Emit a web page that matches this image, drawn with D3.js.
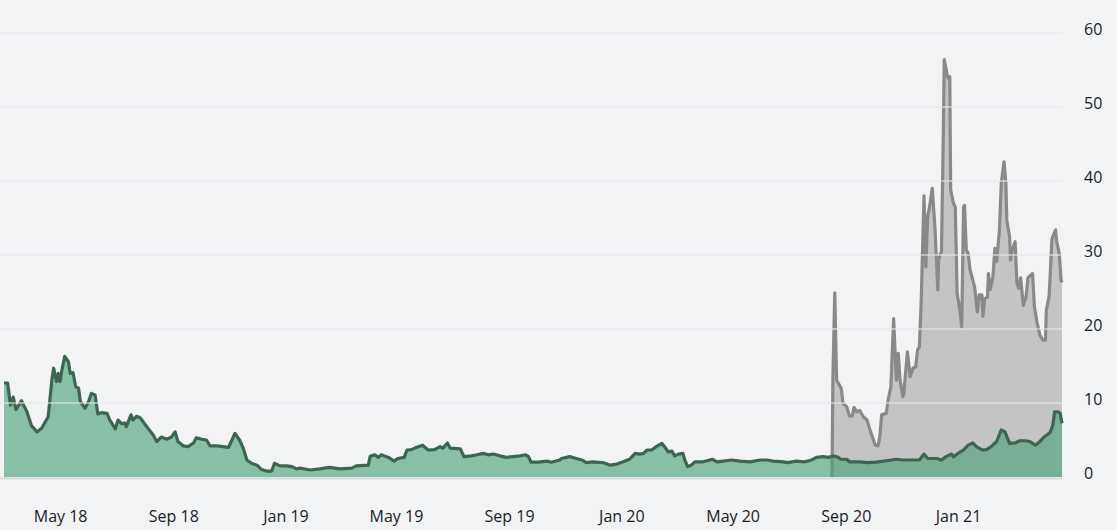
<!DOCTYPE html>
<html>
<head>
<meta charset="utf-8">
<script src="https://cdn.jsdelivr.net/npm/d3@7"></script>
<style>
  html, body { margin: 0; padding: 0; background: #f2f3f5; }
  svg { display: block; }
  text { font-family: "Open Sans", "Noto Sans", sans-serif; }
</style>
</head>
<body>
<svg id="chart" width="1117" height="530"></svg>
<script>
// ---- data ----
const greenDates = [
"2018-03-01","2018-03-05","2018-03-08","2018-03-11","2018-03-14","2018-03-17","2018-03-20","2018-03-26","2018-03-31",
"2018-04-06","2018-04-11","2018-04-15","2018-04-18","2018-04-22","2018-04-24","2018-04-27","2018-04-29",
"2018-05-01","2018-05-03","2018-05-06","2018-05-10","2018-05-12","2018-05-15","2018-05-18","2018-05-21","2018-05-23","2018-05-28",
"2018-06-01","2018-06-04","2018-06-08","2018-06-11","2018-06-15","2018-06-21","2018-06-24","2018-06-30",
"2018-07-03","2018-07-07","2018-07-10","2018-07-12","2018-07-17","2018-07-19","2018-07-23","2018-07-27","2018-07-30",
"2018-08-05","2018-08-10","2018-08-14","2018-08-19","2018-08-25","2018-08-30",
"2018-09-03","2018-09-06","2018-09-12","2018-09-17","2018-09-23","2018-09-26",
"2018-10-02","2018-10-07","2018-10-11","2018-10-18","2018-10-25","2018-10-31",
"2018-11-03","2018-11-07","2018-11-12","2018-11-16","2018-11-20","2018-11-25",
"2018-12-01","2018-12-06","2018-12-11","2018-12-17","2018-12-20","2018-12-26",
"2019-01-02","2019-01-08","2019-01-13","2019-01-17","2019-01-28","2019-02-07","2019-02-18","2019-03-01","2019-03-14","2019-03-19",
"2019-04-01","2019-04-03","2019-04-08","2019-04-12","2019-04-15","2019-04-23","2019-04-29",
"2019-05-03","2019-05-10","2019-05-13","2019-05-18","2019-05-23","2019-05-30",
"2019-06-05","2019-06-12","2019-06-18","2019-06-21","2019-06-26","2019-06-29",
"2019-07-10","2019-07-14","2019-07-22","2019-07-28","2019-08-04","2019-08-09","2019-08-15","2019-08-22","2019-08-29",
"2019-09-05","2019-09-13","2019-09-19","2019-09-22","2019-09-25","2019-10-03","2019-10-12","2019-10-17","2019-10-23","2019-10-26","2019-10-28",
"2019-11-06","2019-11-13","2019-11-19","2019-11-24","2019-12-01","2019-12-12","2019-12-20","2019-12-27",
"2020-01-03","2020-01-10","2020-01-16","2020-01-21","2020-01-25","2020-01-29","2020-02-03","2020-02-08","2020-02-14","2020-02-17","2020-02-21","2020-02-25","2020-02-28",
"2020-03-03","2020-03-08","2020-03-10","2020-03-13","2020-03-17","2020-03-21","2020-03-30",
"2020-04-09","2020-04-14","2020-04-21","2020-04-30","2020-05-09","2020-05-20","2020-05-31",
"2020-06-07","2020-06-14","2020-06-25","2020-06-30","2020-07-09","2020-07-18","2020-07-26","2020-07-31",
"2020-08-07","2020-08-13","2020-08-18","2020-08-24","2020-08-26","2020-09-02","2020-09-05","2020-09-16","2020-09-24",
"2020-10-04","2020-10-15","2020-10-26","2020-11-02","2020-11-13","2020-11-20","2020-11-25","2020-11-29",
"2020-12-09","2020-12-14","2020-12-19","2020-12-25","2020-12-27",
"2021-01-01","2021-01-07","2021-01-12","2021-01-17","2021-01-21","2021-01-27",
"2021-02-01","2021-02-06","2021-02-12","2021-02-17","2021-02-21","2021-02-26",
"2021-03-04","2021-03-09","2021-03-15","2021-03-20","2021-03-26","2021-03-31",
"2021-04-05","2021-04-11","2021-04-14","2021-04-16","2021-04-20","2021-04-22","2021-04-24"
];
const greenValues = [
12.7,12.7,9.7,10.8,9.1,9.7,10.3,8.8,6.9,
6.1,6.6,7.5,8.1,13.1,14.7,12.9,14.0,
12.9,14.5,16.3,15.6,14.0,14.1,12.2,12.0,10.2,9.3,
10.2,11.3,11.1,8.5,8.7,8.6,7.7,6.5,
7.7,7.2,7.3,6.8,8.4,7.7,8.2,8.0,7.5,
6.5,5.7,4.8,5.4,5.1,5.4,
6.1,4.8,4.2,4.1,4.6,5.3,
5.1,5.0,4.2,4.2,4.1,4.0,
4.8,5.9,5.0,3.9,2.3,1.85,
1.6,1.0,0.8,0.8,1.85,1.5,
1.5,1.4,1.1,1.2,0.95,1.1,1.3,1.1,1.2,1.5,
1.6,2.8,3.0,2.65,3.0,2.65,2.15,
2.5,2.65,3.65,3.7,4.0,4.3,
3.65,3.7,4.1,3.9,4.6,3.9,
3.8,2.75,2.85,3.0,3.2,3.0,3.1,2.85,2.65,
2.75,2.85,3.0,2.75,2.0,2.0,2.15,2.0,2.2,2.3,2.5,
2.75,2.5,2.3,1.95,2.05,1.95,1.6,1.75,
2.05,2.4,3.2,3.1,3.2,3.65,3.65,4.1,4.55,4.1,3.4,3.5,2.85,
3.1,3.2,2.3,1.4,1.6,2.05,2.05,
2.4,2.05,2.15,2.3,2.15,2.05,2.3,
2.3,2.15,2.05,1.95,2.15,2.05,2.3,2.65,
2.75,2.65,2.85,2.65,2.4,2.4,2.05,2.05,1.95,
2.0,2.2,2.4,2.3,2.3,2.3,3.1,2.5,
2.5,2.3,2.75,3.1,2.7,
3.2,3.65,4.3,4.6,4.1,3.65,
3.7,4.1,4.8,6.35,6.1,4.55,
4.6,4.9,4.9,4.8,4.3,4.8,
5.45,6.0,7.0,8.8,8.8,8.6,7.25
];
const grayDates = [
"2020-08-17","2020-08-18","2020-08-20","2020-08-22","2020-08-26","2020-08-27","2020-08-29",
"2020-09-02","2020-09-05","2020-09-08","2020-09-10","2020-09-13","2020-09-16","2020-09-20","2020-09-24","2020-09-28",
"2020-10-03","2020-10-06","2020-10-08","2020-10-10","2020-10-15","2020-10-17","2020-10-20","2020-10-23","2020-10-24","2020-10-26","2020-10-28","2020-10-30",
"2020-11-02","2020-11-03","2020-11-07","2020-11-10","2020-11-13","2020-11-16","2020-11-18","2020-11-20","2020-11-22","2020-11-25","2020-11-27","2020-11-29",
"2020-12-01","2020-12-04","2020-12-07","2020-12-10","2020-12-11","2020-12-14","2020-12-16","2020-12-17","2020-12-20","2020-12-21","2020-12-23","2020-12-24","2020-12-27","2020-12-29","2020-12-31",
"2021-01-03","2021-01-05","2021-01-07","2021-01-08","2021-01-10","2021-01-12","2021-01-14","2021-01-16","2021-01-19","2021-01-22","2021-01-24","2021-01-27","2021-01-28","2021-01-30",
"2021-02-02","2021-02-03","2021-02-05","2021-02-08","2021-02-10","2021-02-12","2021-02-15","2021-02-17","2021-02-20","2021-02-22","2021-02-23","2021-02-26","2021-02-27",
"2021-03-01","2021-03-04","2021-03-06","2021-03-08","2021-03-10","2021-03-13","2021-03-16","2021-03-18","2021-03-23","2021-03-25","2021-03-28","2021-03-31",
"2021-04-03","2021-04-06","2021-04-07","2021-04-10","2021-04-13","2021-04-14","2021-04-17","2021-04-18","2021-04-21","2021-04-23","2021-04-24"
];
const grayValues = [
0,13.5,24.9,13.1,12.2,12.0,9.95,
9.5,8.25,8.25,9.4,8.8,9.0,8.15,7.7,6.1,
4.3,4.2,5.45,8.4,8.6,10.4,12.2,21.4,18.5,13.1,16.7,13.1,
10.85,11.3,16.9,13.55,14.7,14.9,17.2,17.6,23.9,38.0,28.4,35.2,
36.5,39.0,33.5,25.3,29.5,30.5,46.4,56.4,54.5,53.9,54.1,38.8,37.0,36.5,24.8,
22.6,20.3,36.5,36.7,30.7,30.2,28.0,27.1,25.7,22.3,24.6,24.6,21.7,24.1,
24.3,27.5,25.3,27.1,30.9,29.1,33.4,39.7,42.6,39.7,34.7,32.5,29.3,
30.7,31.8,26.2,25.5,26.9,23.2,24.4,26.9,27.5,23.0,20.8,19.2,
18.5,18.5,22.6,24.4,32.0,32.5,33.4,32.0,30.2,26.6,26.3
];
const xTickDates = ["2018-05-01","2018-09-01","2019-01-01","2019-05-01","2019-09-01","2020-01-01","2020-05-01","2020-09-01","2021-01-01"];
const xTickLabels = ["May 18","Sep 18","Jan 19","May 19","Sep 19","Jan 20","May 20","Sep 20","Jan 21"];
const yTicks = [0,10,20,30,40,50,60];

// ---- chart ----
const parse = d3.utcParse("%Y-%m-%d");
const green = greenDates.map((d,i) => ({date: parse(d), value: greenValues[i]}));
const gray = grayDates.map((d,i) => ({date: parse(d), value: grayValues[i]}));

const svg = d3.select("#chart");
const x = d3.scaleUtc().domain([parse("2018-03-01"), parse("2021-04-24")]).range([4, 1062]);
const y = d3.scaleLinear().domain([0, 60]).range([477, 33]);

const area = d3.area().x(d => x(d.date)).y0(y(0)).y1(d => y(d.value));
const line = d3.line().x(d => x(d.date)).y(d => y(d.value));

// baseline
svg.append("line").attr("x1", 0).attr("x2", 1062).attr("y1", y(0) + 1.5).attr("y2", y(0) + 1.5)
  .attr("stroke", "#d6d8dc").attr("stroke-width", 2);

// gray series
svg.append("path").datum(gray).attr("d", area).attr("fill", "#c4c4c4");
svg.append("path").datum(gray).attr("d", line).attr("fill", "none")
  .attr("stroke", "#898989").attr("stroke-width", 3.2).attr("stroke-linejoin", "round");

// green series
svg.append("path").datum(green).attr("d", area).attr("fill", "rgb(79,163,125)").attr("fill-opacity", 0.65);
svg.append("path").datum(green).attr("d", line).attr("fill", "none")
  .attr("stroke", "#3d6652").attr("stroke-width", 3.2).attr("stroke-linejoin", "round");

// gridlines on top
const grid = svg.append("g");
grid.selectAll("line").data(yTicks.filter(t => t > 0)).join("line")
  .attr("x1", 0).attr("x2", 1062)
  .attr("y1", d => y(d)).attr("y2", d => y(d))
  .attr("stroke", "#e4e6ea").attr("stroke-opacity", 0.75).attr("stroke-width", 1.5);

// y axis (right)
const yAxis = d3.axisRight(y).tickValues(yTicks).tickSize(0).tickPadding(0).tickFormat(d3.format("d"));
const gy = svg.append("g").attr("transform", "translate(1084,-4)").call(yAxis);
gy.select(".domain").remove();
gy.selectAll("text").style("font-size", "16px").attr("fill", "#1b1b24");

// x axis
const xAxis = d3.axisBottom(x).tickValues(xTickDates.map(parse)).tickSize(0).tickPadding(0)
  .tickFormat((d,i) => xTickLabels[i]);
const gx = svg.append("g").attr("transform", "translate(0,511)").call(xAxis);
gx.select(".domain").remove();
gx.selectAll("text").style("font-size", "16px").attr("fill", "#1b1b24");
</script>
</body>
</html>
